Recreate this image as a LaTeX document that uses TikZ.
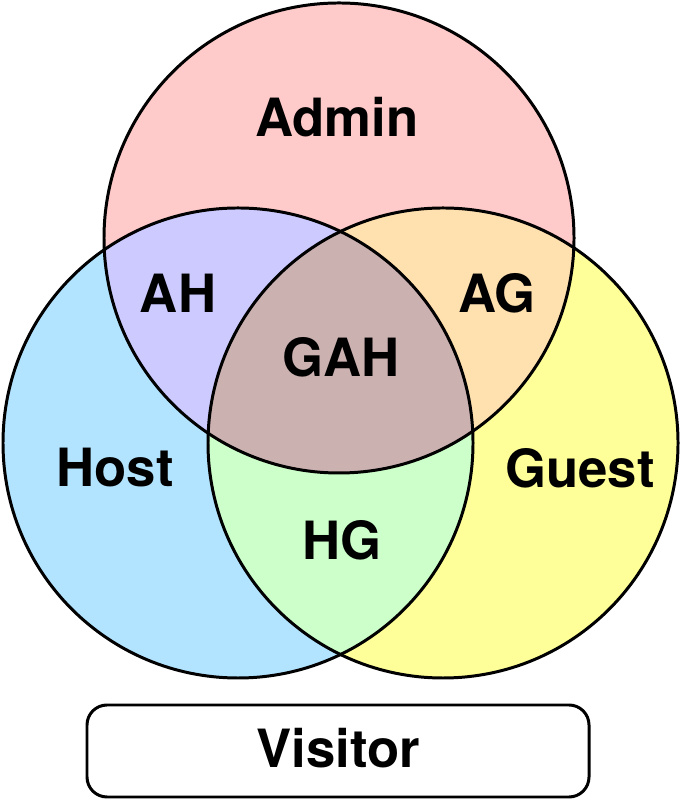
\documentclass[tikz,border=0pt]{standalone}
\usepackage{fontspec}
\setmainfont{TeX Gyre Heros}
\usepackage{xcolor}
\usepackage{tikz}
\definecolor{admin}{HTML}{FFCACA}
\definecolor{host}{HTML}{B3E4FF}
\definecolor{guest}{HTML}{FFFF99}
\definecolor{ah}{HTML}{CCCAFF}
\definecolor{ag}{HTML}{FFE1B0}
\definecolor{hg}{HTML}{CCFFCA}
\definecolor{gah}{HTML}{CCB1B1}
\tikzset{
  ring/.style={draw=black, line width=1.7pt},
  lab/.style={text=black, font=\fontsize{30}{36}\selectfont\bfseries, anchor=base, inner sep=0pt},
  tag/.style={draw=black, line width=1.7pt, rounded corners=0.4cm},
}

\begin{document}
\begin{tikzpicture}[x=0.02cm, y=0.02cm]
  \useasboundingbox (0,0) rectangle (683,800);
  \coordinate (A) at (339,562);
  \coordinate (H) at (238,357);
  \coordinate (G) at (443,357);
  \def\rad{235}

  % single sets
  \fill[admin] (A) circle (\rad);
  \fill[host]  (H) circle (\rad);
  \fill[guest] (G) circle (\rad);

  % pairs and the middle
  \begin{scope}
    \clip (A) circle (\rad);
    \fill[ah] (H) circle (\rad);
    \fill[ag] (G) circle (\rad);
  \end{scope}
  \begin{scope}
    \clip (H) circle (\rad);
    \fill[hg] (G) circle (\rad);
    \clip (A) circle (\rad);
    \fill[gah] (G) circle (\rad);
  \end{scope}

  \draw[ring] (A) circle (\rad);
  \draw[ring] (H) circle (\rad);
  \draw[ring] (G) circle (\rad);

  \node[lab] (admin) at (337,663) {Admin};
  \node[lab] (ahl)   at (178,487) {AH};
  \node[lab] (agl)   at (497,487) {AG};
  \node[lab] (gahl)  at (341,423) {GAH};
  \node[lab] (host)  at (115,313) {Host};
  \node[lab] (guest) at (580,312) {Guest};
  \node[lab] (hgl)   at (342,240) {HG};

  \draw[tag] (87,3) rectangle (589,95);
  \node[lab] (visitor) at (338,32) {Visitor};
\end{tikzpicture}
\end{document}
